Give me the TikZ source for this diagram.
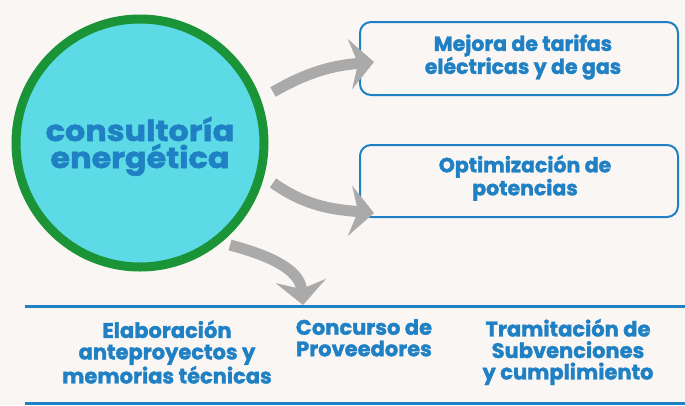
\documentclass[tikz,border=0pt]{standalone}
\usepackage{fontspec}
\setmainfont{Poppins}
\newfontfamily\popb{Poppins}[UprightFont=* Bold, FakeBold=1.6]
\newfontfamily\popc{Poppins}[UprightFont=* Bold, FakeBold=1.8, FakeStretch=1.1]
\usetikzlibrary{arrows.meta}
\definecolor{bgc}{RGB}{250,246,243}
\definecolor{cyanf}{RGB}{92,218,230}
\definecolor{greenb}{RGB}{26,148,54}
\definecolor{bluet}{RGB}{31,128,196}
\definecolor{arrg}{RGB}{170,170,170}
\tikzset{
  lbl/.style={align=center, text=bluet, font=\popb\fontsize{20.5}{23}\selectfont, inner sep=0pt},
  lblb/.style={align=center, text=bluet, font=\popb\fontsize{21}{21.5}\selectfont, inner sep=0pt},
  ctext/.style={anchor=base, text=bluet, font=\popc\fontsize{29}{29}\selectfont, inner sep=0pt},
  box/.style={draw=bluet, line width=2pt, rounded corners=11pt},
  garrow/.style={draw=arrg, line width=11pt, -{Stealth[length=24pt,width=50pt,inset=8pt]}},
  rule/.style={draw=bluet, line width=3pt}
}
\begin{document}
\begin{tikzpicture}[x=1pt,y=-1pt]
\fill[bgc] (0,0) rectangle (685,405);
\useasboundingbox (0,0) rectangle (685,405);
% central circle
\node[circle, draw=greenb, fill=cyanf, line width=9pt, minimum size=248pt, inner sep=0pt] (c) at (140,143) {};
\node[ctext] (ct1) at (140,141) {consultoría};
\node[ctext] (ct2) at (140,168) {energética};
% boxes
\draw[box] (360,22) rectangle (678,95);
\node[lbl] (b1) at (523,57) {Mejora de tarifas\\eléctricas y de gas};
\draw[box] (360,145) rectangle (678,217);
\node[lbl] (b2) at (525,178) {Optimización de\\potencias};
% bottom rules
\coordinate (r1a) at (25,306);
\coordinate (r1b) at (685,306);
\coordinate (r2a) at (25,403);
\coordinate (r2b) at (685,403);
\draw[rule] (r1a) -- (r1b);
\draw[rule] (r2a) -- (r2b);
\node[lblb] (e1) at (167,352) {Elaboración\\anteproyectos y\\memorias técnicas};
\node[lblb, anchor=north] (e2) at (364,319) {Concurso de\\Proveedores};
\node[lblb] (e3) at (568,352) {Tramitación de\\Subvenciones\\y cumplimiento};
% arrows
\coordinate (t1) at (273,92);
\coordinate (h1) at (374,62);
\coordinate (t2) at (273,183);
\coordinate (h2) at (374,213);
\coordinate (t3) at (230,245);
\coordinate (h3) at (303,305);
\draw[garrow] (t1) to[out=30, in=185] (h1);
\draw[garrow] (t2) to[out=-35, in=175] (h2);
\draw[garrow] (t3) to[out=-15, in=95] (h3);
\end{tikzpicture}
\end{document}
